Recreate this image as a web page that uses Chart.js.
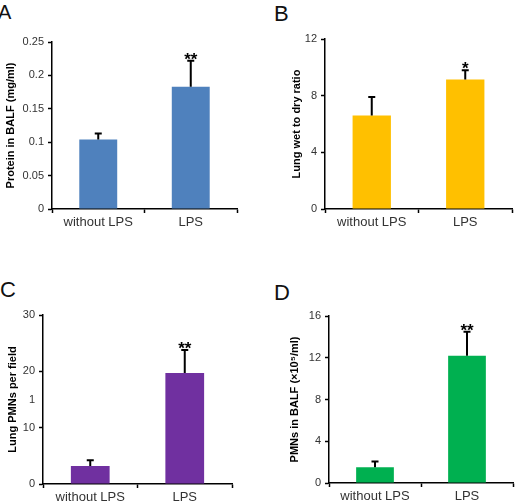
<!DOCTYPE html>
<html><head><meta charset="utf-8">
<script src="https://cdn.jsdelivr.net/npm/chart.js@4"></script>
<style>
body{margin:0;width:525px;height:504px;background:#fff;position:relative;overflow:hidden;font-family:'Liberation Sans',Arial,sans-serif}
canvas{position:absolute}
.lt{position:absolute;line-height:22px;color:#111;font-family:'Liberation Sans',Arial,sans-serif}
</style></head>
<body>
<div class="lt" style="left:-2px;top:1px;font-size:20px">A</div>
<div class="lt" style="left:274px;top:3px;font-size:22px">B</div>
<div class="lt" style="left:0px;top:279px;font-size:22px">C</div>
<div class="lt" style="left:274px;top:282px;font-size:22px">D</div>
<canvas id="cA"></canvas>
<canvas id="cB"></canvas>
<canvas id="cC"></canvas>
<canvas id="cD"></canvas>
<script>
// ---- data ----
const categories = ['without LPS', 'LPS'];

const proteinValues = [0.104, 0.183];
const proteinErrors = [0.009, 0.039];
const proteinStars = ['', '**'];
const proteinTicks = ['0', '0.05', '0.1', '0.15', '0.2', '0.25'];

const ratioValues = [6.6, 9.15];
const ratioErrors = [1.3, 0.65];
const ratioStars = ['', '*'];
const ratioTicks = ['0', '4', '8', '12'];

const lungPmnValues = [3.2, 19.7];
const lungPmnErrors = [1.0, 4.1];
const lungPmnStars = ['', '**'];
const lungPmnTicks = ['0', '', '10', '1', '20', '', '30'];

const balfPmnValues = [1.5, 12.2];
const balfPmnErrors = [0.55, 2.3];
const balfPmnStars = ['', '**'];
const balfPmnTicks = ['0', '4', '8', '12', '16'];

// ---- rendering ----
const FONT = "'Liberation Sans', Arial, sans-serif";

const errorBarPlugin = {
  id: 'errorBars',
  afterDatasetsDraw(chart) {
    const ctx = chart.ctx;
    const ds = chart.data.datasets[0];
    const meta = chart.getDatasetMeta(0);
    const y = chart.scales.y;
    ctx.save();
    ctx.strokeStyle = '#000';
    ctx.fillStyle = '#000';
    ctx.lineWidth = 2;
    meta.data.forEach((bar, i) => {
      const v = ds.data[i], e = ds.errors[i];
      const yTop = y.getPixelForValue(v);
      const yErr = y.getPixelForValue(v + e);
      ctx.beginPath();
      ctx.moveTo(bar.x, yTop);
      ctx.lineTo(bar.x, yErr);
      ctx.moveTo(bar.x - 3.5, yErr);
      ctx.lineTo(bar.x + 3.5, yErr);
      ctx.stroke();
      if (ds.stars[i]) {
        ctx.font = 'bold 17px ' + FONT;
        ctx.textAlign = 'center';
        ctx.textBaseline = 'alphabetic';
        ctx.fillText(ds.stars[i], bar.x, yErr + 4);
      }
    });
    ctx.restore();
  }
};

function makePanel(id, box, area, cfg) {
  const cv = document.getElementById(id);
  cv.width = box.w; cv.height = box.h;
  cv.style.left = box.x + 'px'; cv.style.top = box.y + 'px';
  cv.style.width = box.w + 'px'; cv.style.height = box.h + 'px';
  const labels = cfg.ticks;
  new Chart(cv, {
    type: 'bar',
    data: {
      labels: categories,
      datasets: [{
        data: cfg.values,
        errors: cfg.errors,
        stars: cfg.stars,
        backgroundColor: cfg.color,
        borderWidth: 0,
        barPercentage: 0.41,
        categoryPercentage: 1.0
      }]
    },
    options: {
      responsive: false,
      animation: false,
      devicePixelRatio: 1,
      layout: { padding: { top: area.top - box.y, right: box.x + box.w - area.right, left: 0, bottom: 0 } },
      plugins: { legend: { display: false }, tooltip: { enabled: false } },
      scales: {
        x: {
          offset: true,
          grid: { display: true, offset: true, drawOnChartArea: false, drawTicks: true, tickLength: 4, color: '#000', tickWidth: 1.5 },
          border: { display: true, color: '#000', width: 1.5 },
          ticks: { color: '#333', font: { family: FONT, size: 13 }, padding: 2, maxRotation: 0 },
          afterFit(s) { s.height = box.y + box.h - area.bottom; }
        },
        y: {
          min: 0, max: cfg.max,
          ticks: {
            stepSize: cfg.step,
            color: '#333',
            font: { family: FONT, size: 11 },
            padding: 4,
            callback: (v, i) => labels[i]
          },
          grid: {
            display: true, drawOnChartArea: false, drawTicks: true, tickLength: 4, tickWidth: 1.5,
            tickColor: (c) => (labels[c.index] === '' || (labels[c.index] === '1')) ? 'rgba(0,0,0,0)' : '#000'
          },
          border: { display: true, color: '#000', width: 1.5 },
          title: {
            display: true, text: cfg.title, color: '#000',
            font: { family: FONT, size: 11, weight: 'bold' },
            padding: { top: cfg.titlePad, bottom: 0 }
          },
          afterFit(s) { s.width = area.left - box.x; }
        }
      }
    },
    plugins: [errorBarPlugin]
  });
}

makePanel('cA', { x: 0, y: 0, w: 262, h: 250 }, { left: 52, top: 42, right: 237, bottom: 209 }, {
  values: proteinValues, errors: proteinErrors, stars: proteinStars, ticks: proteinTicks,
  max: 0.25, step: 0.05, color: '#4F81BD', title: 'Protein in BALF (mg/ml)', titlePad: 4
});
makePanel('cB', { x: 262, y: 0, w: 263, h: 250 }, { left: 325, top: 39, right: 512, bottom: 209 }, {
  values: ratioValues, errors: ratioErrors, stars: ratioStars, ticks: ratioTicks,
  max: 12, step: 4, color: '#FFC000', title: 'Lung wet to dry ratio', titlePad: 28
});
makePanel('cC', { x: 0, y: 255, w: 262, h: 249 }, { left: 43, top: 315, right: 232, bottom: 484 }, {
  values: lungPmnValues, errors: lungPmnErrors, stars: lungPmnStars, ticks: lungPmnTicks,
  max: 30, step: 5, color: '#7030A0', title: 'Lung PMNs per field', titlePad: 6
});
makePanel('cD', { x: 262, y: 255, w: 263, h: 249 }, { left: 329, top: 316, right: 513, bottom: 483 }, {
  values: balfPmnValues, errors: balfPmnErrors, stars: balfPmnStars, ticks: balfPmnTicks,
  max: 16, step: 4, color: '#00B050', title: 'PMNs in BALF (×10⁵/ml)', titlePad: 26
});
</script>
</body></html>
